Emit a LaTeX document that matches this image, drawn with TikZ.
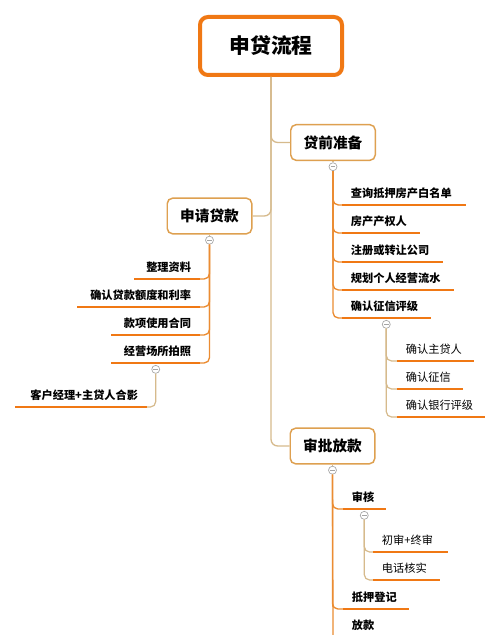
\documentclass[tikz,border=0pt]{standalone}
\usepackage{fontspec}
\setmainfont{Noto Sans CJK SC}
\usetikzlibrary{positioning}
\definecolor{rootorange}{RGB}{240,120,20}
\definecolor{lineorange}{RGB}{235,140,50}
\definecolor{boxtan}{RGB}{222,160,80}
\definecolor{linetan}{RGB}{214,186,140}
\definecolor{foldgray}{RGB}{165,165,165}
\tikzset{
  rootbox/.style={draw=rootorange, line width=3pt, rounded corners=6pt, fill=white,
    minimum width=106.5pt, minimum height=43.5pt, font=\fontsize{15.6}{18}\selectfont\bfseries},
  branchbox/.style={draw=boxtan, line width=1.1pt, rounded corners=4pt, fill=white,
    minimum width=63.4pt, minimum height=26.7pt, font=\fontsize{11}{13}\selectfont\bfseries},
  leaf/.style={inner xsep=6.5pt, inner ysep=4.5pt, text height=7pt, text depth=1.2pt,
    font=\fontsize{8.4}{10}\selectfont\bfseries, text width=#1},
  leafR/.style={leaf=#1, align=left, anchor=south west},
  leafL/.style={leaf=#1, align=right, anchor=south east},
  subleaf/.style={leafR=#1, font=\fontsize{8.4}{10}\selectfont},
  fold/.style={circle, draw=foldgray, fill=white, inner sep=0pt, minimum size=6pt, line width=0.5pt,
    path picture={\draw[foldgray, line width=0.5pt]
      ([xshift=-1.7pt]path picture bounding box.center) -- ([xshift=1.7pt]path picture bounding box.center);}},
  trunk/.style={draw=linetan, line width=1pt, rounded corners=5pt},
  bline/.style={draw=lineorange, line width=1pt, rounded corners=4pt},
  sline/.style={draw=linetan, line width=0.9pt, rounded corners=4pt},
  uline/.style={draw=rootorange, line width=2.2pt}
}
\begin{document}
\begin{tikzpicture}[x=0.75pt, y=-0.75pt]
    \useasboundingbox[fill=white] (0,0) rectangle (500,635);
    % Root and the three branches
    \node[rootbox] (root) at (271,46) {申贷流程};
    \node[branchbox] (pre) at (333,142.5) {贷前准备};
    \node[branchbox] (apply) at (209.5,216) {申请贷款};
    \node[branchbox] (appr) at (332.5,446) {审批放款};
    % Leaves of the first branch
    \node[leafR=79.25pt] (q1) at (342,205) {查询抵押房产白名单};
    \node[leafR=44.75pt] (q2) at (342,233) {房产产权人};
    \node[leafR=62pt] (q3) at (342,262) {注册或转让公司};
    \node[leafR=70.25pt] (q4) at (342,290) {规划个人经营流水};
    \node[leafR=53pt] (q5) at (342,318) {确认征信评级};
    \node[subleaf=44pt] (r1) at (397,361) {确认主贷人};
    \node[subleaf=35.75pt] (r2) at (397,389) {确认征信};
    \node[subleaf=52.25pt] (r3) at (397,417) {确认银行评级};
    % Leaves of the left branch
    \node[leafL=35.75pt] (a1) at (200,279) {整理资料};
    \node[leafL=78.5pt] (a2) at (200,307) {确认贷款额度和利率};
    \node[leafL=53pt] (a3) at (200,335) {款项使用合同};
    \node[leafL=53pt] (a4) at (200,363) {经营场所拍照};
    \node[leafL=85.25pt] (a5) at (147,407) {客户经理+主贷人合影};
    % Leaves of the last branch
    \node[leafR=18.5pt] (s1) at (343,509) {审核};
    \node[subleaf=42.5pt] (t1) at (373,552) {初审+终审};
    \node[subleaf=36.5pt] (t2) at (373,580) {电话核实};
    \node[leafR=35.75pt] (s2) at (343,609) {抵押登记};
    \node[leafR=18.5pt] (s3) at (343,637) {放款};
    \coordinate (bot) at (333,635);
    % Fold markers
    \node[fold, below=1pt of pre] (m1) {};
    \node[fold, below=1pt of apply] (m2) {};
    \node[fold, below=1.5pt of q5] (m3) {};
    \node[fold, below=1.5pt of a4] (m4) {};
    \node[fold, below=1pt of appr] (m5) {};
    \node[fold, below=1.5pt of s1] (m6) {};
    % Trunk from the root
    \draw[trunk] (root.south) |- (pre.west);
    \draw[trunk] (root.south) |- (apply.east);
    \draw[trunk] (root.south) |- (appr.west);
    \draw[sline] (pre.south) -- (m1.north);
    \draw[sline] (apply.south) -- (m2.north);
    \draw[sline] (appr.south) -- (m5.north);
    % Branch connectors
    \foreach \n in {q1,q2,q3,q4,q5}
      \draw[bline] (m1.south) |- (\n.south west);
    \foreach \n in {a1,a2,a3,a4}
      \draw[bline] (m2.south) |- (\n.south east);
    \foreach \n in {s1,s2}
      \draw[bline] (m5.south) |- (\n.south west);
    \draw[bline] (m5.south) -- (bot);
    \foreach \n in {r1,r2,r3}
      \draw[sline] (m3.south) |- (\n.south west);
    \foreach \n in {t1,t2}
      \draw[sline] (m6.south) |- (\n.south west);
    \draw[sline] (m4.south) |- (a5.south east);
    % Underlines
    \foreach \n in {q1,q2,q3,q4,q5,r1,r2,r3,a1,a2,a3,a4,a5,s1,t1,t2,s2}
      \draw[uline] (\n.south west) -- (\n.south east);
\end{tikzpicture}
\end{document}
